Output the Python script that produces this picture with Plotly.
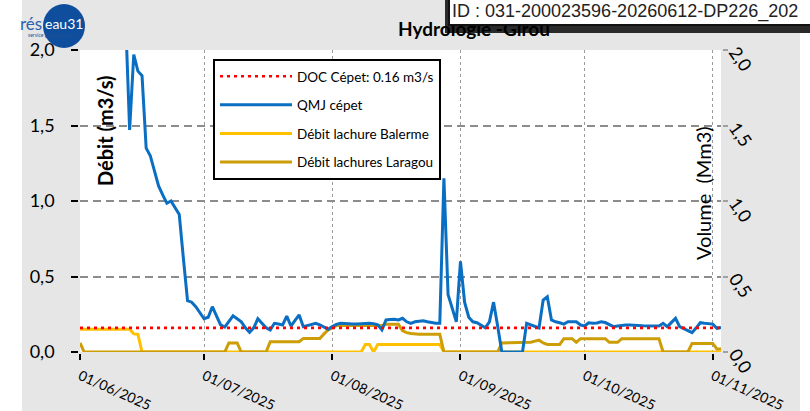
import plotly.graph_objects as go
import pandas as pd

# ---------------- data (daily values) ----------------
START_DATE = "2025-06-01"
AXIS_END = "2025-11-03"

qmj_cepet = [
    3.20, 3.10, 3.00, 2.90, 2.80, 2.75, 2.70, 2.60, 2.50, 2.40,
    2.30, 2.23, 1.47, 1.97, 1.86, 1.83, 1.35, 1.30, 1.20, 1.10,
    1.04, 0.985, 1.00, 0.95, 0.91, 0.62, 0.34, 0.33, 0.30, 0.26,
    0.22, 0.23, 0.30, 0.24, 0.18, 0.165, 0.20, 0.24, 0.22, 0.20,
    0.16, 0.13, 0.16, 0.22, 0.19, 0.16, 0.146, 0.19, 0.185, 0.179,
    0.238, 0.172, 0.21, 0.245, 0.168, 0.175, 0.179, 0.19, 0.179, 0.165,
    0.15, 0.168, 0.183, 0.19, 0.19, 0.187, 0.186, 0.185, 0.188, 0.19,
    0.19, 0.187, 0.18, 0.146, 0.212, 0.215, 0.217, 0.212, 0.223, 0.20,
    0.19, 0.20, 0.205, 0.207, 0.20, 0.195, 0.19, 0.19, 1.15, 0.38,
    0.29, 0.20, 0.60, 0.33, 0.23, 0.20, 0.194, 0.175, 0.16, 0.20,
    0.33, 0.17, 0.0, 0.0, 0.0, 0.0, 0.0, 0.0, 0.19, 0.18,
    0.168, 0.16, 0.344, 0.366, 0.212, 0.20, 0.194, 0.185, 0.20, 0.20,
    0.20, 0.18, 0.172, 0.194, 0.19, 0.192, 0.20, 0.195, 0.18, 0.168,
    0.172, 0.176, 0.179, 0.179, 0.179, 0.176, 0.174, 0.172, 0.172, 0.172,
    0.172, 0.19, 0.168, 0.195, 0.223, 0.168, 0.155, 0.14, 0.128, 0.16,
    0.194, 0.19, 0.185, 0.185, 0.157, 0.163,
]

debit_balerme = [
    0.15, 0.15, 0.15, 0.15, 0.15, 0.15, 0.15, 0.15, 0.15, 0.15,
    0.15, 0.15, 0.15, 0.12, 0.117, 0.0, 0.0, 0.0, 0.0, 0.0,
    0.0, 0.0, 0.0, 0.0, 0.0, 0.0, 0.0, 0.0, 0.0, 0.0,
    0.0, 0.0, 0.0, 0.0, 0.0, 0.0, 0.0, 0.0, 0.0, 0.0,
    0.0, 0.0, 0.0, 0.0, 0.0, 0.0, 0.0, 0.0, 0.0, 0.0,
    0.0, 0.0, 0.0, 0.0, 0.0, 0.0, 0.0, 0.0, 0.0, 0.0,
    0.0, 0.0, 0.0, 0.0, 0.0, 0.0, 0.0, 0.0, 0.0, 0.05,
    0.05, 0.0, 0.05, 0.05, 0.05, 0.05, 0.05, 0.05, 0.05, 0.05,
    0.05, 0.05, 0.05, 0.05, 0.05, 0.05, 0.05, 0.05, 0.0, 0.0,
    0.0, 0.0, 0.0, 0.0, 0.0, 0.0, 0.0, 0.0, 0.0, 0.0,
    0.0, 0.0, 0.0, 0.0, 0.0, 0.0, 0.0, 0.0, 0.0, 0.0,
    0.0, 0.0, 0.0, 0.0, 0.0, 0.0, 0.0, 0.0, 0.0, 0.0,
    0.0, 0.0, 0.0, 0.0, 0.0, 0.0, 0.0, 0.0, 0.0, 0.0,
    0.0, 0.0, 0.0, 0.0, 0.0, 0.0, 0.0, 0.0, 0.0, 0.0,
    0.0, 0.0, 0.0, 0.0, 0.0, 0.0, 0.0, 0.0, 0.0, 0.0,
    0.0, 0.0, 0.0, 0.0, 0.0, 0.0,
]

debit_laragou = [
    0.06, 0.0, 0.0, 0.0, 0.0, 0.0, 0.0, 0.0, 0.0, 0.0,
    0.0, 0.0, 0.0, 0.0, 0.0, 0.0, 0.0, 0.0, 0.0, 0.0,
    0.0, 0.0, 0.0, 0.0, 0.0, 0.0, 0.0, 0.0, 0.0, 0.0,
    0.0, 0.0, 0.0, 0.0, 0.0, 0.0, 0.06, 0.06, 0.06, 0.0,
    0.0, 0.0, 0.0, 0.0, 0.0, 0.0, 0.068, 0.068, 0.068, 0.068,
    0.068, 0.068, 0.068, 0.068, 0.09, 0.09, 0.09, 0.09, 0.09, 0.12,
    0.146, 0.16, 0.175, 0.175, 0.175, 0.175, 0.175, 0.175, 0.175, 0.175,
    0.175, 0.175, 0.175, 0.175, 0.183, 0.183, 0.183, 0.183, 0.14, 0.128,
    0.122, 0.117, 0.117, 0.117, 0.117, 0.117, 0.117, 0.117, 0.0, 0.0,
    0.0, 0.0, 0.0, 0.0, 0.0, 0.0, 0.0, 0.0, 0.0, 0.0,
    0.0, 0.0, 0.06, 0.06, 0.06, 0.06, 0.06, 0.06, 0.06, 0.065,
    0.072, 0.078, 0.06, 0.05, 0.05, 0.05, 0.05, 0.088, 0.088, 0.088,
    0.064, 0.088, 0.088, 0.088, 0.088, 0.088, 0.088, 0.088, 0.064, 0.064,
    0.064, 0.088, 0.088, 0.088, 0.088, 0.088, 0.088, 0.088, 0.088, 0.088,
    0.088, 0.0, 0.0, 0.0, 0.0, 0.0, 0.0, 0.0, 0.057, 0.057,
    0.057, 0.057, 0.057, 0.057, 0.02, 0.02,
]

doc_cepet = [0.16, 0.16]          # constant threshold (start / end of period)

y_tickvals = [0, 0.5, 1.0, 1.5, 2.0]
y_ticktext = ["0,0", "0,5", "1,0", "1,5", "2,0"]
y2_ticktext = ["0,0", "0,5", "1,0", "1,5", "2,0"]

names = ["DOC Cépet: 0.16 m3/s", "QMJ cépet", "Débit lachure Balerme", "Débit lachures Laragou"]

dates = pd.date_range(START_DATE, periods=len(qmj_cepet), freq="D")

# ---------------- styling ----------------
FONT = "Lato, Carlito, Calibri, 'Open Sans', sans-serif"
W, H = 810, 411
L, R, T, B = 80, 89, 50, 59
PW, PH = W - L - R, H - T - B


def px(x):
    return (x - L) / PW


def py(y):
    return (H - B - y) / PH


fig = go.Figure()

fig.add_trace(go.Scatter(
    x=[dates[0], dates[-1]], y=doc_cepet, name=names[0], mode="lines",
    line=dict(color="#FF0000", width=2.6, dash="3px,4px"),
    legendgroup="a", zorder=4))
fig.add_trace(go.Scatter(
    x=dates, y=qmj_cepet, name=names[1], mode="lines",
    line=dict(color="#0A6EC2", width=3),
    legendgroup="b", zorder=3))
fig.add_trace(go.Scatter(
    x=dates, y=debit_balerme, name=names[2], mode="lines",
    line=dict(color="#FFC000", width=3),
    legendgroup="c", zorder=1))
fig.add_trace(go.Scatter(
    x=dates, y=debit_laragou, name=names[3], mode="lines",
    line=dict(color="#CC9D06", width=3),
    legendgroup="d", zorder=2))
# empty trace so that the secondary (volume) axis is drawn
fig.add_trace(go.Scatter(x=[dates[0]], y=[None], yaxis="y2", showlegend=False,
                         hoverinfo="skip", mode="lines"))

fig.update_layout(
    width=W, height=H, autosize=False,
    margin=dict(l=L, r=R, t=T, b=B, pad=0, autoexpand=False),
    paper_bgcolor="#E6E6E6", plot_bgcolor="white",
    font=dict(family=FONT, color="black"),
    showlegend=True,
    legend=dict(
        x=px(213), y=py(59), xanchor="left", yanchor="top",
        bgcolor="white", bordercolor="black", borderwidth=2,
        font=dict(family=FONT, size=13.5, color="black"),
        traceorder="grouped", tracegroupgap=8,
        itemwidth=72,
    ),
    xaxis=dict(
        type="date", range=[START_DATE, AXIS_END], automargin=False,
        tick0=START_DATE, dtick="M1", tickformat="%d/%m/%Y",
        tickangle=24, tickfont=dict(family=FONT, size=14, color="black"),
        ticks="outside", ticklen=6, tickcolor="black", tickwidth=1.5,
        showline=True, linecolor="black", linewidth=1.5,
        showgrid=True, gridcolor="#9A9A9A", gridwidth=1.2, griddash="3px,3px",
        zeroline=False, ticklabelstandoff=3,
    ),
    yaxis=dict(
        range=[0, 2], tickvals=y_tickvals, ticktext=y_ticktext, automargin=False,
        tickfont=dict(family=FONT, size=18, color="black"),
        ticks="outside", ticklen=7, tickcolor="black", tickwidth=1.5,
        showline=True, linecolor="black", linewidth=1.5,
        showgrid=True, gridcolor="#8C8C8C", gridwidth=1.5, griddash="8px,5px",
        zeroline=False, ticklabelstandoff=13,
    ),
    yaxis2=dict(
        overlaying="y", side="right", anchor="x", automargin=False,
        range=[0, 2], tickvals=y_tickvals, ticktext=y2_ticktext,
        tickangle=55, tickfont=dict(family=FONT, size=18, color="black"),
        ticks="outside", ticklen=5, tickcolor="#A0A0A0", tickwidth=1.5,
        showline=True, linecolor="#A0A0A0", linewidth=1.5,
        showgrid=False, zeroline=False, ticklabelstandoff=4,
    ),
)

shapes = [
    # white strips at the left and right of the picture
    dict(type="rect", xref="paper", yref="paper", layer="below",
         x0=px(-5), x1=px(22), y0=py(H + 5), y1=py(-5),
         fillcolor="white", line=dict(width=0)),
    dict(type="rect", xref="paper", yref="paper", layer="below",
         x0=px(800), x1=px(W + 5), y0=py(H + 5), y1=py(-5),
         fillcolor="white", line=dict(width=0)),
    # logo disc
    dict(type="circle", xref="paper", yref="paper", layer="above",
         x0=px(43), x1=px(85), y0=py(48), y1=py(4),
         fillcolor="#0F4E9C", line=dict(width=0)),
    # shadow of the ID stamp
    dict(type="rect", xref="paper", yref="paper", layer="above",
         x0=px(445), x1=px(W + 20), y0=py(33), y1=py(-5),
         fillcolor="#2A2A2A", line=dict(width=0)),
]

annotations = [
    dict(text="<b>Débit (m3/s)</b>", x=px(105), y=py(131), xref="paper", yref="paper",
         xanchor="center", yanchor="middle",
         textangle=-90, showarrow=False, font=dict(family=FONT, size=20, color="black")),
    dict(text="Volume  (Mm3)", x=px(703), y=py(193), xref="paper", yref="paper",
         xanchor="center", yanchor="middle",
         textangle=-90, showarrow=False, font=dict(family=FONT, size=20, color="black")),
    dict(text="<b>Hydrologie -Girou</b>", x=px(396), y=py(28), xref="paper", yref="paper",
         xanchor="left", yanchor="middle", showarrow=False,
         font=dict(family=FONT, size=19, color="black")),
    dict(text="ID : 031-200023596-20260612-DP226_202", x=px(448), y=py(-3),
         xref="paper", yref="paper", xanchor="left", yanchor="top", showarrow=False,
         width=420, align="left",
         bgcolor="white", bordercolor="#111111", borderwidth=2, borderpad=2,
         font=dict(family="'Liberation Sans', Arial, sans-serif",
                   size=18, color="#222222")),
    dict(text="rés", x=px(44), y=py(23), xref="paper", yref="paper",
         xanchor="right", yanchor="middle", showarrow=False,
         font=dict(family=FONT, size=17, color="#2A62B0")),
    dict(text="eau31", x=px(64), y=py(23), xref="paper", yref="paper",
         xanchor="center", yanchor="middle", showarrow=False,
         font=dict(family=FONT, size=14, color="white")),
    dict(text="service public de l'eau", x=px(52), y=py(35), xref="paper", yref="paper",
         xanchor="center", yanchor="middle", showarrow=False,
         font=dict(family=FONT, size=5, color="#1F4F95")),
]

fig.update_layout(shapes=shapes, annotations=annotations)

fig.write_html(
    "out.html",
    config={"displayModeBar": False},
    post_script="document.body.style.margin='0';document.body.style.overflow='hidden';",
)
